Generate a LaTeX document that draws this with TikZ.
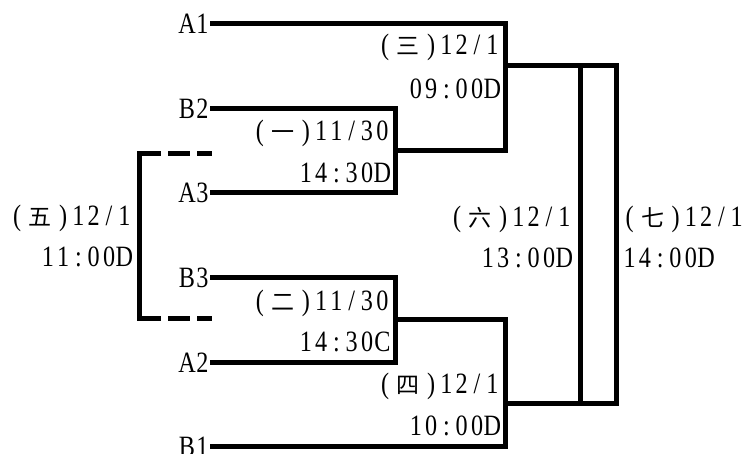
\documentclass[tikz,border=0pt]{standalone}
\usepackage{fontspec}
\setmainfont{Liberation Serif}[FakeStretch=0.82]
\newfontfamily\cjkfont{Noto Sans CJK SC}
\newlength\cellw \setlength\cellw{15.3pt}
\makeatletter
\def\mono#1{\mono@a#1\relax}
\def\mono@a#1{\ifx\relax#1\else\makebox[\cellw]{#1}\expandafter\mono@a\fi}
\makeatother
\newcommand\fw[1]{\makebox[2\cellw]{\cjkfont\fontsize{23pt}{23pt}\selectfont #1}}
\newcommand\lab[2]{\mono{(}\fw{#1}\mono{)#2}}
\begin{document}
\begin{tikzpicture}[x=1pt,y=-1pt, line width=5pt, line join=miter,
  txt/.style={font=\fontsize{29.5pt}{31pt}\selectfont, inner sep=0pt, outer sep=0pt},
  team/.style={txt, anchor=east},
  rl/.style={txt, anchor=base east},
  ll/.style={txt, anchor=base west},
  dashln/.style={dash pattern=on 22pt off 7pt}]
\useasboundingbox (0,0) rectangle (745,454);
% teams
\node[team] (A1) at (210,24) {\mono{A1}};
\node[team] (B2) at (210,108.5) {\mono{B2}};
\node[team] (A3) at (210,193) {\mono{A3}};
\node[team] (B3) at (210,277.5) {\mono{B3}};
\node[team] (A2) at (210,362.5) {\mono{A2}};
\node[team] (B1) at (210,446.5) {\mono{B1}};
% columns and rows
\coordinate (c1) at (395,0);
\coordinate (c3) at (505.5,0);
\coordinate (c6) at (580,0);
\coordinate (c7) at (616.5,0);
\coordinate (c5) at (139,0);
\coordinate (w1) at (0,150.5);
\coordinate (w2) at (0,319.5);
\coordinate (w3) at (0,66);
\coordinate (w4) at (0,404);
\coordinate (d1) at (212,154);
\coordinate (d2) at (212,319);
% brackets
\draw (B2.east) -- (B2.east -| c1) -- (A3.east -| c1) -- (A3.east);
\draw (B3.east) -- (B3.east -| c1) -- (A2.east -| c1) -- (A2.east);
\draw (A1.east) -- (A1.east -| c3) -- (w1 -| c3) -- (w1 -| c1);
\draw (B1.east) -- (B1.east -| c3) -- (w2 -| c3) -- (w2 -| c1);
\draw (w3 -| c3) -- (w3 -| c7) -- (w4 -| c7) -- (w4 -| c3);
\draw (w3 -| c6) -- (w4 -| c6);
% dashed bracket
\draw[line cap=rect] (d1 -| c5) -- (d2 -| c5);
\draw[dashln] (d1 -| c5) -- (d1);
\draw[dashln] (d2 -| c5) -- (d2);
% match labels
\node[rl] (m3a) at (500,54.5) {\lab{三}{12/1}};
\node[rl] (m3b) at (500,98.5) {\mono{09:00D}};
\node[rl] (m1a) at (390,140.5) {\lab{一}{11/30}};
\node[rl] (m1b) at (390,182.5) {\mono{14:30D}};
\node[rl] (m5a) at (132,225.5) {\lab{五}{12/1}};
\node[rl] (m5b) at (132,266.5) {\mono{11:00D}};
\node[rl] (m6a) at (572,226.5) {\lab{六}{12/1}};
\node[rl] (m6b) at (572,267.5) {\mono{13:00D}};
\node[ll] (m7a) at (622,226.5) {\lab{七}{12/1}};
\node[ll] (m7b) at (622,267.5) {\mono{14:00D}};
\node[rl] (m2a) at (390,310.5) {\lab{二}{11/30}};
\node[rl] (m2b) at (390,351.5) {\mono{14:30C}};
\node[rl] (m4a) at (500,393.5) {\lab{四}{12/1}};
\node[rl] (m4b) at (500,435.5) {\mono{10:00D}};
\end{tikzpicture}
\end{document}
